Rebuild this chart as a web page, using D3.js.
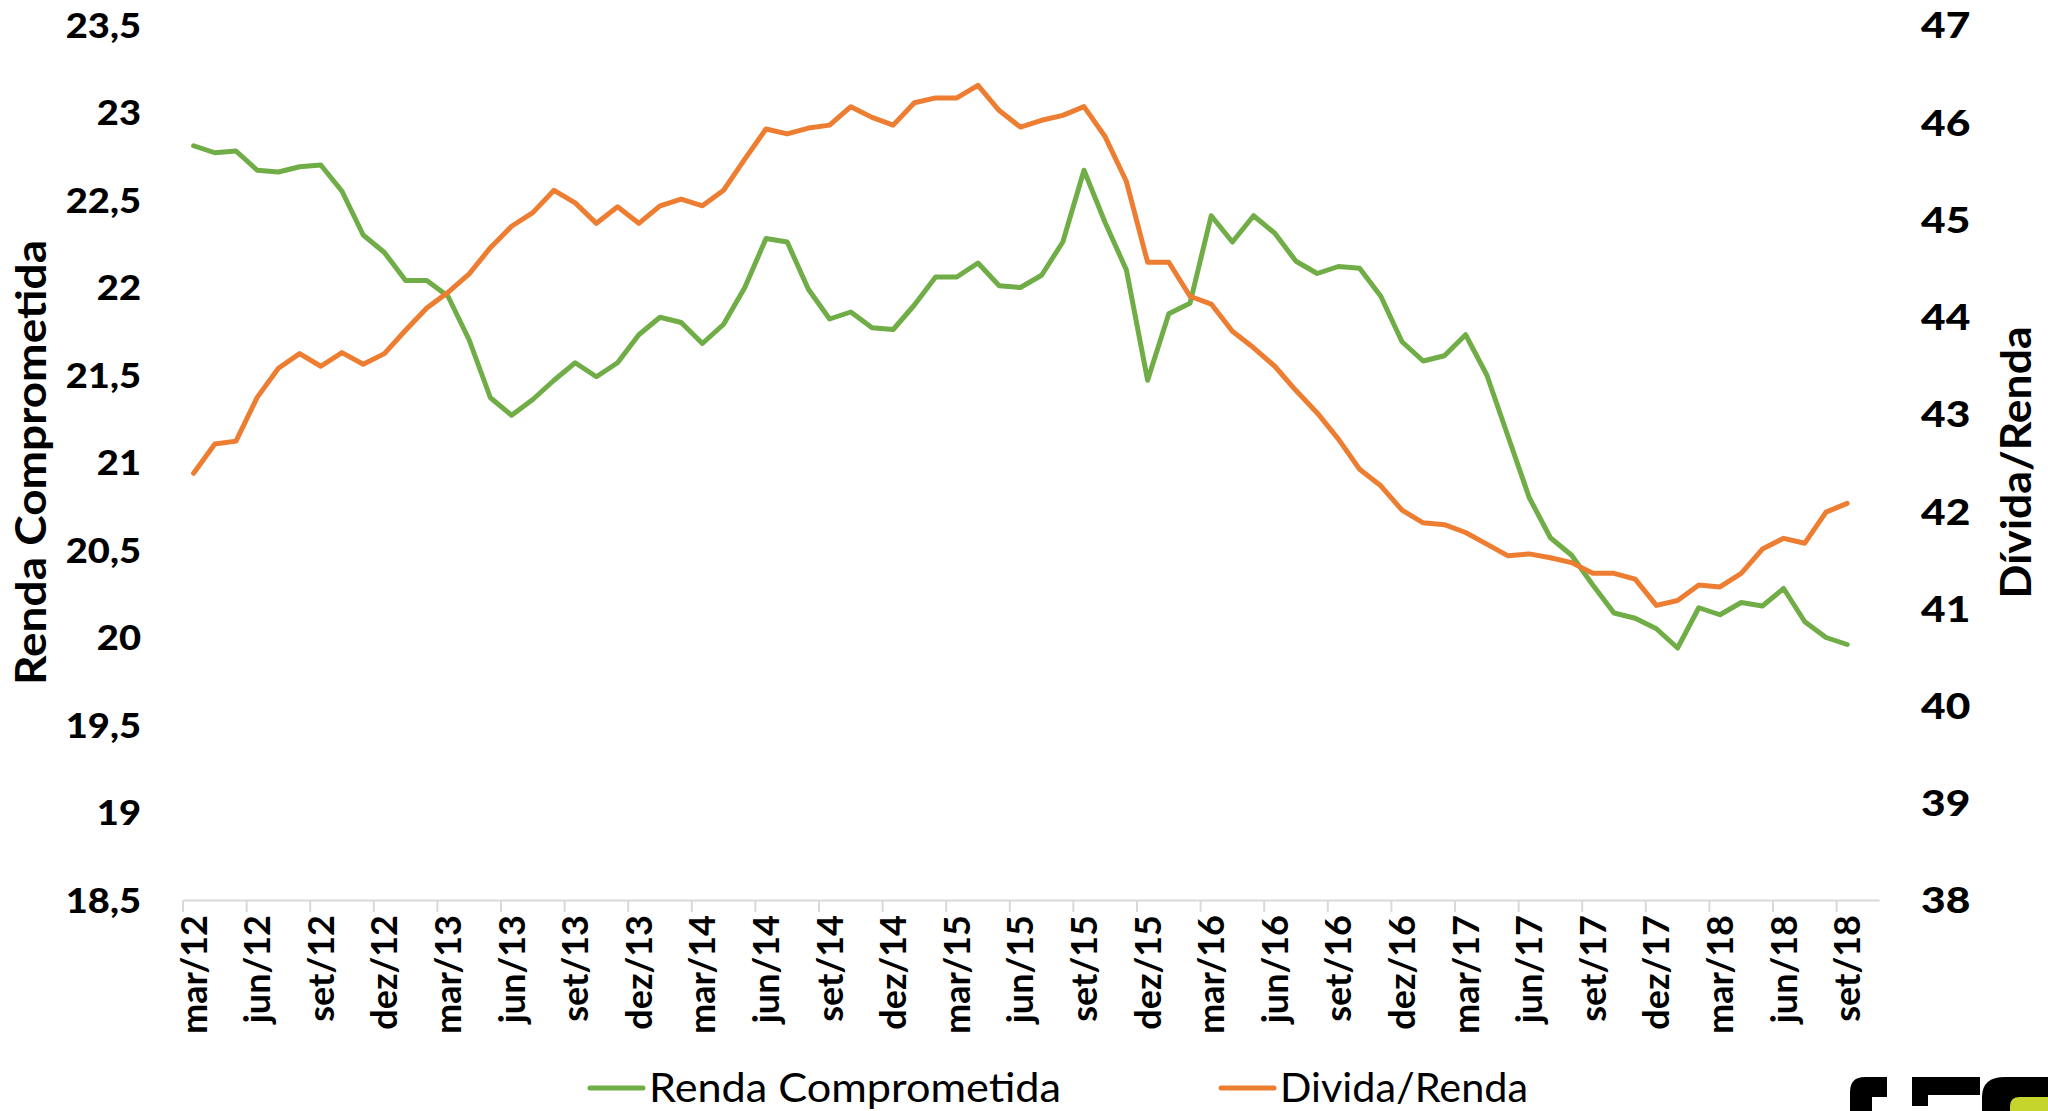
<!DOCTYPE html>
<html>
<head>
<meta charset="utf-8">
<script src="https://cdn.jsdelivr.net/npm/d3@7"></script>
<style>
  html, body { margin: 0; padding: 0; background: #ffffff; }
  svg { display: block; }
</style>
</head>
<body>
<script>
// ---------- DATA ----------
const categories = [
  "mar/12","abr/12","mai/12","jun/12","jul/12","ago/12","set/12","out/12","nov/12","dez/12",
  "jan/13","fev/13","mar/13","abr/13","mai/13","jun/13","jul/13","ago/13","set/13","out/13","nov/13","dez/13",
  "jan/14","fev/14","mar/14","abr/14","mai/14","jun/14","jul/14","ago/14","set/14","out/14","nov/14","dez/14",
  "jan/15","fev/15","mar/15","abr/15","mai/15","jun/15","jul/15","ago/15","set/15","out/15","nov/15","dez/15",
  "jan/16","fev/16","mar/16","abr/16","mai/16","jun/16","jul/16","ago/16","set/16","out/16","nov/16","dez/16",
  "jan/17","fev/17","mar/17","abr/17","mai/17","jun/17","jul/17","ago/17","set/17","out/17","nov/17","dez/17",
  "jan/18","fev/18","mar/18","abr/18","mai/18","jun/18","jul/18","ago/18","set/18","out/18"
];

const rendaComprometida = [
  22.81, 22.77, 22.78, 22.67, 22.66, 22.69, 22.70, 22.55, 22.30, 22.20,
  22.04, 22.04, 21.95, 21.70, 21.37, 21.27, 21.36, 21.47, 21.57, 21.49,
  21.57, 21.73, 21.83, 21.80, 21.68, 21.79, 22.00, 22.28, 22.26, 21.99,
  21.82, 21.86, 21.77, 21.76, 21.90, 22.06, 22.06, 22.14, 22.01, 22.00,
  22.07, 22.26, 22.67, 22.37, 22.10, 21.47, 21.85, 21.91, 22.41, 22.26,
  22.41, 22.31, 22.15, 22.08, 22.12, 22.11, 21.95, 21.69, 21.58, 21.61,
  21.73, 21.50, 21.15, 20.80, 20.57, 20.47, 20.30, 20.14, 20.11, 20.05,
  19.94, 20.17, 20.13, 20.20, 20.18, 20.28, 20.09, 20.00, 19.96
];

const dividaRenda = [
  42.39, 42.69, 42.72, 43.17, 43.47, 43.62, 43.49, 43.63, 43.51, 43.62,
  43.86, 44.09, 44.25, 44.44, 44.71, 44.93, 45.07, 45.30, 45.17, 44.96,
  45.13, 44.96, 45.14, 45.21, 45.14, 45.30, 45.62, 45.93, 45.88, 45.94,
  45.97, 46.16, 46.05, 45.97, 46.20, 46.25, 46.25, 46.38, 46.12, 45.95,
  46.02, 46.07, 46.16, 45.85, 45.39, 44.56, 44.56, 44.21, 44.13, 43.85,
  43.68, 43.49, 43.24, 43.01, 42.74, 42.43, 42.26, 42.01, 41.88, 41.86,
  41.78, 41.66, 41.54, 41.56, 41.52, 41.47, 41.36, 41.36, 41.30, 41.03,
  41.08, 41.24, 41.22, 41.36, 41.61, 41.72, 41.67, 41.99, 42.08
];

const leftTicks = [18.5, 19, 19.5, 20, 20.5, 21, 21.5, 22, 22.5, 23, 23.5];
const rightTicks = [38, 39, 40, 41, 42, 43, 44, 45, 46, 47];
const labelEvery = 3;

const seriesNames = ["Renda Comprometida", "Divida/Renda"];
const leftTitle = "Renda Comprometida";
const rightTitle = "Dívida/Renda";
const colors = ["#70AD47", "#ED7D31"];

// ---------- LAYOUT ----------
const W = 2048, H = 1111;
const plotLeft = 183, plotRight = 1879, plotTop = 25, plotBottom = 900;

const svg = d3.select("body").append("svg")
  .attr("width", W).attr("height", H)
  .attr("viewBox", `0 0 ${W} ${H}`);

const x = d3.scaleBand().domain(categories).range([plotLeft, plotRight]).padding(0);
const yL = d3.scaleLinear().domain([18.5, 23.5]).range([plotBottom, plotTop]);
const yR = d3.scaleLinear().domain([38, 47]).range([plotBottom, plotTop]);
const cx = c => x(c) + x.bandwidth() / 2;

const fmt = d => String(d).replace(".", ",");
const tickFont = "Lato, 'Open Sans', sans-serif";

// ---------- LEFT AXIS ----------
const gL = svg.append("g")
  .attr("transform", `translate(141,0)`)
  .call(d3.axisLeft(yL).tickValues(leftTicks).tickFormat(fmt).tickSize(0).tickPadding(0));
gL.select(".domain").remove();
gL.selectAll("text")
  .attr("font-family", tickFont).attr("font-weight", 900)
  .attr("font-size", 34).attr("fill", "#000").attr("dy", "0.36em")
  .attr("transform", "scale(1.12,1)");

// ---------- RIGHT AXIS ----------
const gR = svg.append("g")
  .attr("transform", `translate(1921,0)`)
  .call(d3.axisRight(yR).tickValues(rightTicks).tickFormat(fmt).tickSize(0).tickPadding(0));
gR.select(".domain").remove();
gR.selectAll("text")
  .attr("font-family", tickFont).attr("font-weight", 900)
  .attr("font-size", 36).attr("fill", "#000").attr("dy", "0.36em")
  .attr("transform", "scale(1.18,1)");

// ---------- X AXIS ----------
const labelCats = categories.filter((c, i) => i % labelEvery === 0 && i < rendaComprometida.length);
const gX = svg.append("g")
  .attr("transform", `translate(0,${plotBottom})`)
  .call(d3.axisBottom(x).tickValues(labelCats).tickSize(0).tickPadding(0));
gX.select(".domain")
  .attr("stroke", "#D9D9D9").attr("stroke-width", 2);
gX.selectAll("text")
  .attr("font-family", tickFont).attr("font-weight", 700)
  .attr("font-size", 36).attr("fill", "#000")
  .attr("transform", "rotate(-90)")
  .attr("text-anchor", "end")
  .attr("x", -15).attr("y", 0).attr("dy", "0.36em");

// tick marks between categories (every 3 categories)
svg.append("g").selectAll("line")
  .data(labelCats)
  .join("line")
  .attr("x1", d => x(d)).attr("x2", d => x(d))
  .attr("y1", plotBottom).attr("y2", plotBottom + 12)
  .attr("stroke", "#D9D9D9").attr("stroke-width", 2);

// ---------- AXIS TITLES ----------
svg.append("text")
  .attr("transform", `translate(46,${(plotTop + plotBottom) / 2}) rotate(-90)`)
  .attr("text-anchor", "middle")
  .attr("font-family", tickFont).attr("font-weight", 700)
  .attr("font-size", 42)
  .attr("textLength", 445).attr("lengthAdjust", "spacingAndGlyphs")
  .text(leftTitle);

svg.append("text")
  .attr("transform", `translate(2031,${(plotTop + plotBottom) / 2}) rotate(-90)`)
  .attr("text-anchor", "middle")
  .attr("font-family", tickFont).attr("font-weight", 700)
  .attr("font-size", 42)
  .attr("textLength", 272).attr("lengthAdjust", "spacingAndGlyphs")
  .text(rightTitle);

// ---------- LINES ----------
const lineL = d3.line().x((d, i) => cx(categories[i])).y(d => yL(d));
const lineR = d3.line().x((d, i) => cx(categories[i])).y(d => yR(d));

svg.append("path").datum(rendaComprometida)
  .attr("d", lineL).attr("fill", "none")
  .attr("stroke", colors[0]).attr("stroke-width", 5)
  .attr("stroke-linejoin", "round").attr("stroke-linecap", "round");

svg.append("path").datum(dividaRenda)
  .attr("d", lineR).attr("fill", "none")
  .attr("stroke", colors[1]).attr("stroke-width", 5)
  .attr("stroke-linejoin", "round").attr("stroke-linecap", "round");

// ---------- LEGEND ----------
const legendItems = [
  { name: seriesNames[0], color: colors[0], x: 590, len: 412 },
  { name: seriesNames[1], color: colors[1], x: 1221, len: 248 }
];
const lg = svg.append("g").selectAll("g").data(legendItems).join("g")
  .attr("transform", d => `translate(${d.x},1088)`);
lg.append("line").attr("x1", 0).attr("x2", 53).attr("y1", 0).attr("y2", 0)
  .attr("stroke", d => d.color).attr("stroke-width", 5).attr("stroke-linecap", "round");
lg.append("text")
  .attr("x", 59).attr("y", 14)
  .attr("font-family", tickFont).attr("font-size", 40).attr("fill", "#000")
  .attr("textLength", d => d.len).attr("lengthAdjust", "spacingAndGlyphs")
  .text(d => d.name);

// ---------- LOGO (partial, cut by bottom edge) ----------
const logo = svg.append("g");
logo.append("path")
  .attr("d", "M1850,1111 L1850,1092 Q1850,1077 1865,1077 L1887,1077 L1887,1097 L1872,1097 L1872,1111 Z")
  .attr("fill", "#000");
logo.append("path")
  .attr("d", "M1912,1077 L1980,1077 L1980,1095 L1928,1095 L1928,1106 L1912,1106 Z")
  .attr("fill", "#000");
logo.append("path")
  .attr("d", "M1982,1111 L1982,1097 Q1982,1077 2005,1077 L2048,1077 L2048,1111 Z")
  .attr("fill", "#000");
logo.append("path")
  .attr("d", "M2010,1111 L2010,1106 Q2010,1097 2020,1097 L2048,1097 L2048,1111 Z")
  .attr("fill", "#C5D52B");
</script>
</body>
</html>
